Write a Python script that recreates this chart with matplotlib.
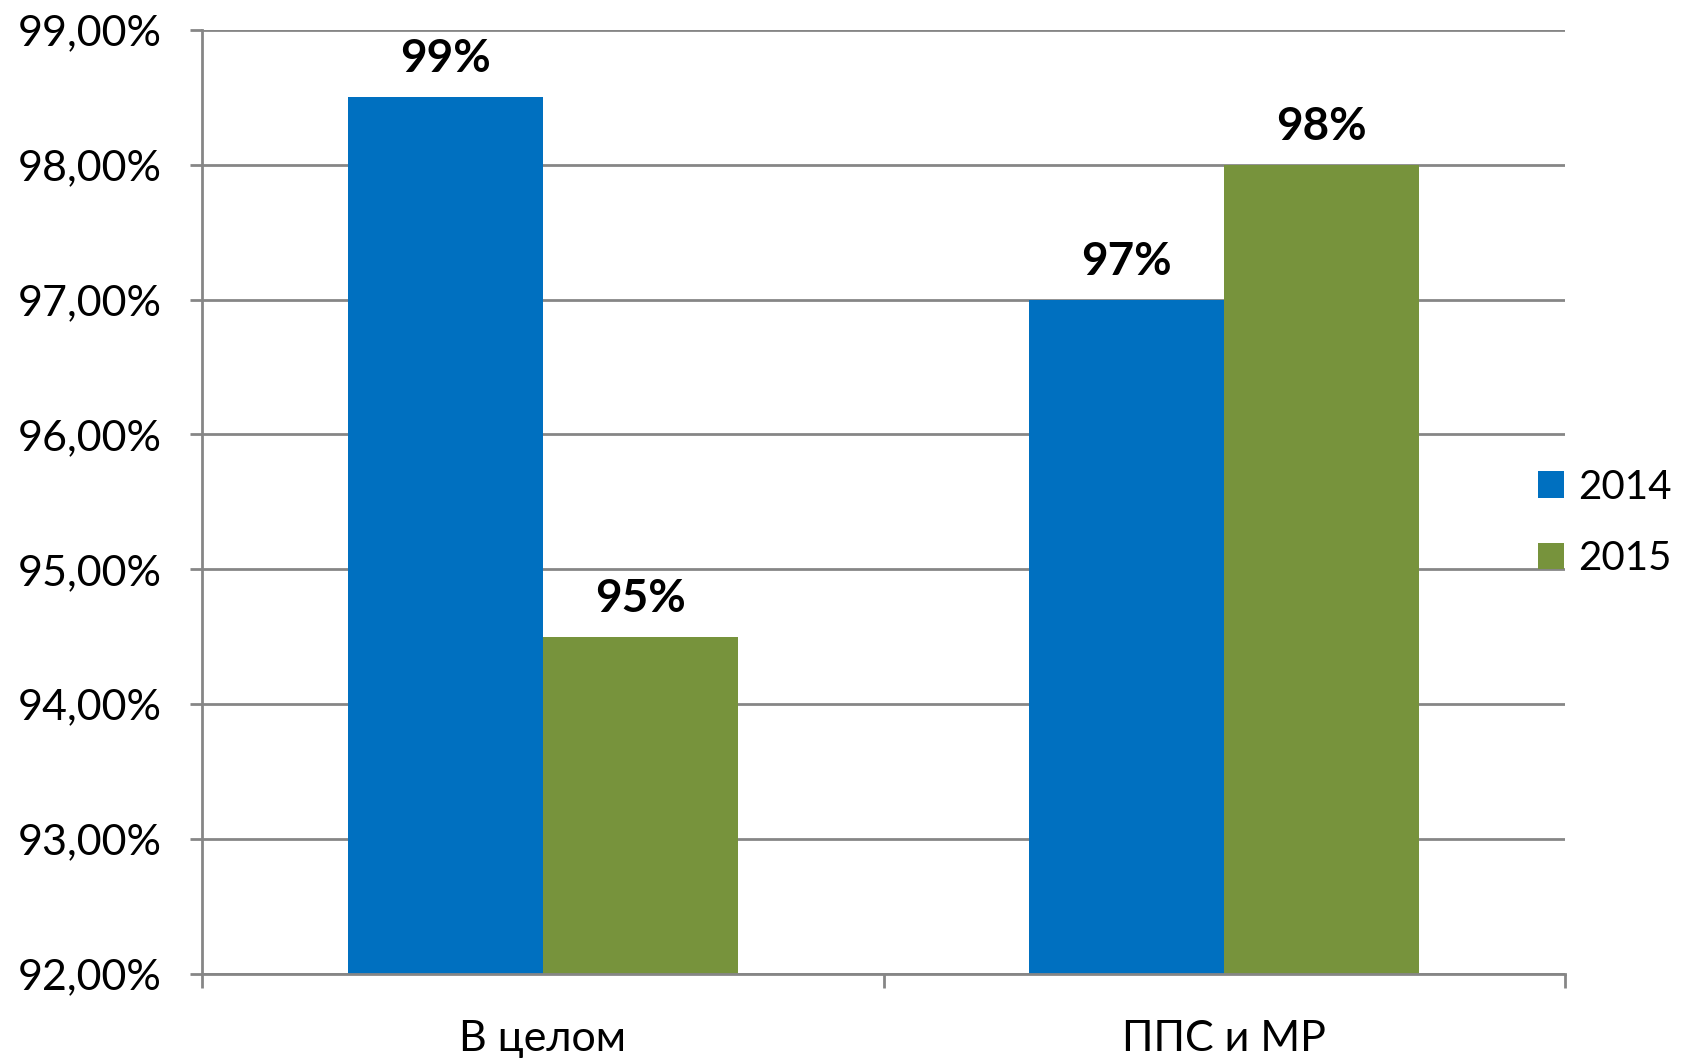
import numpy as np
import matplotlib.pyplot as plt
from matplotlib.ticker import FuncFormatter

# data
categories = ['В целом', 'ППС и МР']
years = ['2014', '2015']
values_2014 = [98.5, 97.0]
values_2015 = [94.5, 98.0]
labels_2014 = ['99%', '97%']
labels_2015 = ['95%', '98%']

colors = ['#0070C0', '#77933C']
grid_col = '#868686'

plt.rcParams['font.family'] = ['Lato', 'DejaVu Sans']

fig = plt.figure(figsize=(16.83, 10.61), dpi=100)
ax = fig.add_axes([0.120, 0.082, 0.810, 0.890])

x = np.arange(len(categories))
w = 0.286
b1 = ax.bar(x - w / 2, np.array(values_2014) - 92, w, bottom=92, color=colors[0], label=years[0], zorder=3)
b2 = ax.bar(x + w / 2, np.array(values_2015) - 92, w, bottom=92, color=colors[1], label=years[1], zorder=3)

# value labels above bars
for bars, labs in ((b1, labels_2014), (b2, labels_2015)):
    for rect, lab in zip(bars, labs):
        ax.annotate(lab, (rect.get_x() + rect.get_width() / 2, rect.get_y() + rect.get_height()),
                    xytext=(0, 12), textcoords='offset points', ha='center', va='bottom',
                    fontsize=33, fontweight='bold', color='black')

ax.set_ylim(92, 99)
ax.set_xlim(-0.5, len(categories) - 0.5)
ax.set_yticks(np.arange(92, 100, 1))
ax.yaxis.set_major_formatter(FuncFormatter(lambda v, p: f'{v:.2f}'.replace('.', ',') + '%'))
ax.grid(axis='y', color=grid_col, linewidth=2, zorder=0)

ax.set_xticks(x)
ax.set_xticklabels(categories)
ax.set_xticks(np.arange(-0.5, len(categories), 1), minor=True)
ax.tick_params(axis='x', which='major', length=0, pad=33, labelsize=31)
ax.tick_params(axis='x', which='minor', length=10, width=2, color=grid_col)
ax.tick_params(axis='y', length=9, width=2, color=grid_col, pad=20, labelsize=31)

for s in ['top', 'right']:
    ax.spines[s].set_visible(False)
for s in ['left', 'bottom']:
    ax.spines[s].set_color(grid_col)
    ax.spines[s].set_linewidth(2)
    ax.spines[s].set_zorder(4)

fig.legend(loc='center left', bbox_to_anchor=(0.914, 0.507), frameon=False, fontsize=29,
           handlelength=0.65, handleheight=0.65, handletextpad=0.35, labelspacing=0.85,
           borderpad=0, borderaxespad=0)

fig.savefig('out.png', dpi=100)
